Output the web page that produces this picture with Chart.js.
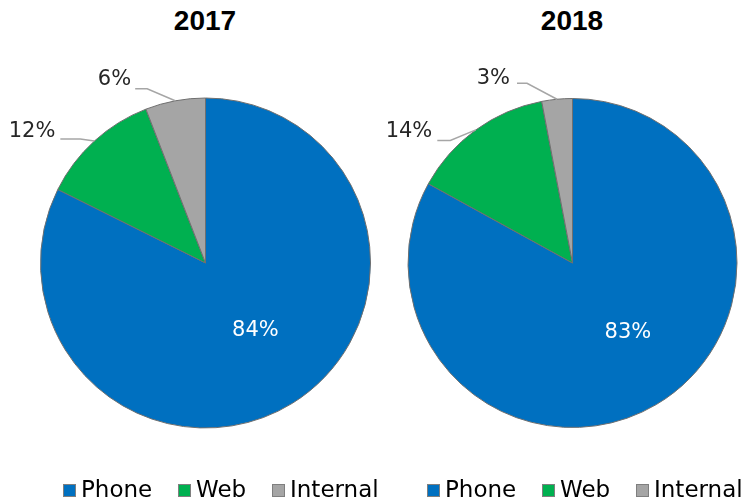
<!DOCTYPE html>
<html><head><meta charset="utf-8">
<script src="https://cdn.jsdelivr.net/npm/chart.js@4"></script>
<style>
body{margin:0;width:742px;height:500px;background:#fff;position:relative;overflow:hidden;font-family:"DejaVu Sans",sans-serif}
.cv{position:absolute;top:0}
.title{position:absolute;top:4px;width:200px;text-align:center;font:bold 28px "Liberation Sans",Arial,sans-serif;line-height:34px;color:#000}
.legend{position:absolute;top:475px;display:flex;align-items:center;font-size:23px;line-height:28px;color:#000;white-space:nowrap}
.item{display:flex;align-items:center}
.item:nth-child(1){width:115px}
.item:nth-child(2){width:94px}
.sw{width:11px;height:11px;border:1px solid #7f7f7f;margin-right:5px;margin-top:2px}
</style></head>
<body>
<div class="title" style="left:105px">2017</div>
<div class="title" style="left:472px">2018</div>
<canvas id="c1" class="cv" width="371" height="500" style="left:0"></canvas>
<canvas id="c2" class="cv" width="371" height="500" style="left:371px"></canvas>
<div class="legend" id="lg1" style="left:63px"></div>
<div class="legend" id="lg2" style="left:427px"></div>
<script>
const categories = ['Phone', 'Web', 'Internal'];
const years = ['2017', '2018'];
const values2017 = [84, 12, 6];
const values2018 = [83, 14, 3];
const colors = ['#0070C0', '#00B050', '#A5A5A5'];

// label placement styles (per slice): inside label offset, or outside leader line geometry
const labelStyle2017 = [
  {type: 'in', dx: 6.5, dy: -3},
  {type: 'out', elbow: [-14, -2], len: 20, tx: -5, ty: -8},
  {type: 'out', elbow: [-28, -12], len: 12, tx: -4, ty: -9}
];
const labelStyle2018 = [
  {type: 'in', dx: 13.5, dy: -1},
  {type: 'out', elbow: [-25.5, 10.5], len: 13, tx: -5, ty: -9},
  {type: 'out', elbow: [-30, -16], len: 10, tx: -7, ty: -5}
];

const labelPlugin = {
  id: 'pieLabels',
  afterDatasetsDraw(chart) {
    const ctx = chart.ctx;
    const meta = chart.getDatasetMeta(0);
    const data = chart.data.datasets[0].data;
    const styles = chart.options.plugins.pieLabels.styles;
    ctx.save();
    ctx.font = '21px "DejaVu Sans", sans-serif';
    ctx.textBaseline = 'middle';
    meta.data.forEach((arc, i) => {
      const p = arc.getProps(['x', 'y', 'startAngle', 'endAngle', 'outerRadius'], true);
      const mid = (p.startAngle + p.endAngle) / 2;
      const cx = Math.cos(mid), cy = Math.sin(mid);
      const s = styles[i];
      const txt = data[i] + '%';
      if (s.type === 'in') {
        const x = p.x + cx * p.outerRadius * 0.5 + s.dx;
        const y = p.y + cy * p.outerRadius * 0.5 + s.dy;
        ctx.fillStyle = '#ffffff';
        ctx.textAlign = 'center';
        ctx.fillText(txt, x, y);
      } else {
        const ex = p.x + cx * p.outerRadius, ey = p.y + cy * p.outerRadius;
        const bx = ex + s.elbow[0], by = ey + s.elbow[1];
        const endx = bx - s.len;
        ctx.strokeStyle = '#A6A6A6';
        ctx.lineWidth = 1.5;
        ctx.beginPath();
        ctx.moveTo(ex, ey);
        ctx.lineTo(bx, by);
        ctx.lineTo(endx, by);
        ctx.stroke();
        ctx.fillStyle = '#262626';
        ctx.textAlign = 'right';
        ctx.fillText(txt, endx + s.tx, by + s.ty);
      }
    });
    ctx.restore();
  }
};

function makePie(id, values, styles, padding) {
  return new Chart(document.getElementById(id), {
    type: 'pie',
    data: {
      labels: categories,
      datasets: [{
        data: values,
        backgroundColor: colors,
        borderColor: '#6f6f6f',
        borderWidth: 1
      }]
    },
    options: {
      responsive: false,
      animation: false,
      layout: {padding: padding},
      plugins: {
        legend: {display: false},
        title: {display: false},
        tooltip: {enabled: false},
        pieLabels: {styles: styles}
      }
    },
    plugins: [labelPlugin]
  });
}

makePie('c1', values2017, labelStyle2017, {left: 40, right: 0, top: 97, bottom: 71});
makePie('c2', values2018, labelStyle2018, {left: 36.5, right: 4.5, top: 97, bottom: 71});

function makeLegend(id) {
  const el = document.getElementById(id);
  categories.forEach((c, i) => {
    const it = document.createElement('div');
    it.className = 'item';
    const sw = document.createElement('div');
    sw.className = 'sw';
    sw.style.background = colors[i];
    const t = document.createElement('span');
    t.textContent = c;
    it.appendChild(sw); it.appendChild(t);
    el.appendChild(it);
  });
}
makeLegend('lg1');
makeLegend('lg2');
</script>
</body></html>
